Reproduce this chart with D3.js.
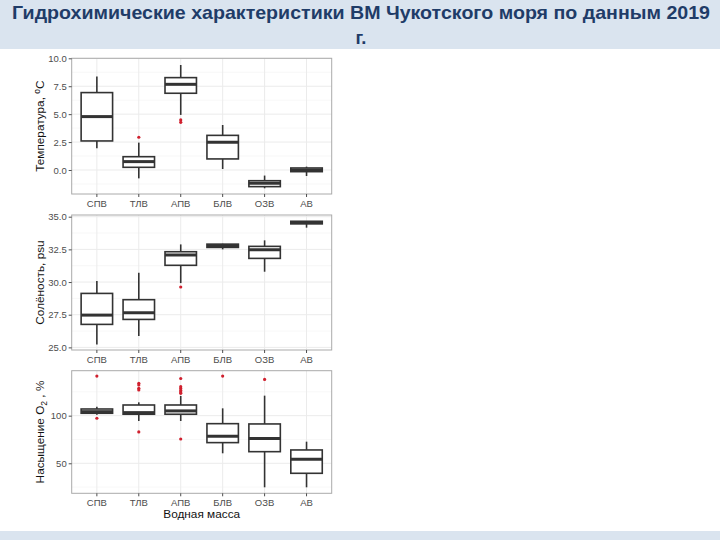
<!DOCTYPE html>
<html><head><meta charset="utf-8">
<script src="https://cdn.jsdelivr.net/npm/d3@7"></script>
<style>body{margin:0;background:#fff;}svg{display:block;}</style>
</head><body>
<svg id="c" width="720" height="540"></svg>
<script>
const categories = ["СПВ","ТЛВ","АПВ","БЛВ","ОЗВ","АВ"];

// Temperature, °C: [lowWhisker, q1, median, q3, highWhisker]
const tempStats = [
  [1.94, 2.6, 4.78, 6.93, 8.36],
  [-0.75, 0.24, 0.75, 1.19, 2.45],
  [4.93, 6.87, 7.67, 8.27, 9.4],
  [0.09, 0.99, 2.48, 3.1, 4.03],
  [-1.64, -1.49, -1.19, -0.96, -0.5],
  [-0.54, -0.15, 0.0, 0.18, 0.3]
];
const tempOutliers = [[], [2.93], [4.48, 4.27], [], [], []];
const tempTicks = [0, 2.5, 5, 7.5, 10];

// Salinity, psu
const salStats = [
  [25.23, 26.76, 27.47, 29.13, 30.08],
  [25.87, 27.14, 27.65, 28.65, 30.71],
  [29.92, 31.28, 32.07, 32.32, 32.88],
  [32.5, 32.65, 32.78, 32.9, 32.93],
  [30.79, 31.81, 32.47, 32.73, 33.19],
  [34.16, 34.45, 34.55, 34.65, 34.67]
];
const salOutliers = [[], [], [29.62], [], [], []];
const salTicks = [25, 27.5, 30, 32.5, 35];

// O2 saturation, %
const oxyStats = [
  [101.0, 102.5, 104.2, 107.0, 109.4],
  [94.4, 101.5, 103.2, 111.2, 114.0],
  [94.4, 101.5, 105.0, 111.2, 120.7],
  [60.5, 71.7, 78.3, 91.6, 107.7],
  [24.8, 62.2, 75.9, 91.3, 121.0],
  [24.8, 39.5, 54.2, 64.0, 72.7]
];
const oxyOutliers = [
  [141.6, 97.3],
  [134.0, 132.2, 128.7, 127.0, 82.9],
  [139.0, 130.4, 128.5, 126.5, 124.8, 123.5, 75.5],
  [141.6],
  [138.0],
  []
];
const oxyTicks = [50, 100];

const svg = d3.select("#c");
const bandColor = "#dae4ef";
svg.append("rect").attr("x",0).attr("y",0).attr("width",720).attr("height",49).attr("fill",bandColor);
svg.append("rect").attr("x",0).attr("y",531).attr("width",720).attr("height",9).attr("fill",bandColor);

const titleFont = "'Liberation Sans Narrow','Arial Narrow','Liberation Sans',sans-serif";
svg.append("text").attr("x",361).attr("y",19).attr("text-anchor","middle")
  .attr("font-family",titleFont).attr("font-weight","bold").attr("font-size",18.5)
  .attr("fill","#1f3c68").attr("textLength",698).attr("lengthAdjust","spacingAndGlyphs")
  .text("Гидрохимические характеристики ВМ Чукотского моря по данным 2019");
svg.append("text").attr("x",361).attr("y",44).attr("text-anchor","middle")
  .attr("font-family",titleFont).attr("font-weight","bold").attr("font-size",18.5)
  .attr("fill","#1f3c68").text("г.");

const left = 71.7, right = 331.7;
const x = d3.scaleBand().domain(categories).range([left, right]).paddingInner(0.25).paddingOuter(0.225);
const font = "'Liberation Sans',Arial,sans-serif";

function panel(cfg) {
  const {top, bottom, domain, ticks, stats, outliers, fmt, label} = cfg;
  const y = d3.scaleLinear().domain(domain).range([bottom, top]);
  const g = svg.append("g");
  g.append("rect").attr("x",left).attr("y",top).attr("width",right-left).attr("height",bottom-top).attr("fill","#fff");
  // minor grid
  const minor = [];
  for (let i = 0; i < ticks.length + 1; i++) {
    const step = ticks[1]-ticks[0];
    const v = ticks[0] - step/2 + i*step;
    if (v > domain[0] && v < domain[1]) minor.push(v);
  }
  g.selectAll(".mn").data(minor).join("line").attr("x1",left).attr("x2",right)
    .attr("y1",d=>y(d)).attr("y2",d=>y(d)).attr("stroke","#f2f2f2").attr("stroke-width",0.6);
  g.selectAll(".mj").data(ticks).join("line").attr("x1",left).attr("x2",right)
    .attr("y1",d=>y(d)).attr("y2",d=>y(d)).attr("stroke","#ebebeb").attr("stroke-width",1);
  g.selectAll(".vx").data(categories).join("line").attr("y1",top).attr("y2",bottom)
    .attr("x1",d=>x(d)+x.bandwidth()/2).attr("x2",d=>x(d)+x.bandwidth()/2).attr("stroke","#ebebeb").attr("stroke-width",1);
  // boxes
  categories.forEach((c,i)=>{
    const s = stats[i];
    const cx = x(c)+x.bandwidth()/2;
    const b = g.append("g").attr("stroke","#333").attr("fill","none");
    b.append("line").attr("x1",cx).attr("x2",cx).attr("y1",y(s[4])).attr("y2",y(s[3])).attr("stroke-width",1.6);
    b.append("line").attr("x1",cx).attr("x2",cx).attr("y1",y(s[1])).attr("y2",y(s[0])).attr("stroke-width",1.6);
    b.append("rect").attr("x",x(c)).attr("width",x.bandwidth()).attr("y",y(s[3]))
      .attr("height",Math.max(0.5,y(s[1])-y(s[3]))).attr("fill","#fff").attr("stroke-width",1.6);
    b.append("line").attr("x1",x(c)).attr("x2",x(c)+x.bandwidth()).attr("y1",y(s[2])).attr("y2",y(s[2])).attr("stroke-width",3);
    g.selectAll(null).data(outliers[i]).join("circle").attr("cx",cx).attr("cy",d=>y(d)).attr("r",1.6).attr("fill","#d0202e");
  });
  g.append("rect").attr("x",left).attr("y",top).attr("width",right-left).attr("height",bottom-top)
    .attr("fill","none").attr("stroke","#aaaaaa").attr("stroke-width",1);
  // y axis
  const ya = g.append("g").attr("transform",`translate(${left},0)`)
    .call(d3.axisLeft(y).tickValues(ticks).tickFormat(fmt).tickSize(3).tickPadding(2));
  ya.select(".domain").remove();
  ya.selectAll("line").attr("stroke","#4d4d4d");
  ya.selectAll("text").attr("fill","#4d4d4d").attr("font-family",font).attr("font-size",9.5);
  // x axis
  const xa = g.append("g").attr("transform",`translate(0,${bottom})`)
    .call(d3.axisBottom(x).tickSize(3).tickPadding(3));
  xa.select(".domain").remove();
  xa.selectAll("line").attr("stroke","#4d4d4d");
  xa.selectAll("text").attr("fill","#4d4d4d").attr("font-family",font).attr("font-size",9.5);
  // y label
  const t = g.append("text").attr("transform",`translate(44,${(top+bottom)/2}) rotate(-90)`)
    .attr("text-anchor","middle").attr("font-family",font).attr("font-size",11.8).attr("fill","#111");
  label(t);
  return y;
}

panel({top:58.3, bottom:194, domain:[-2.15,10.0], ticks:tempTicks, stats:tempStats, outliers:tempOutliers,
  fmt:d3.format(".1f"), label:t=>{ t.append("tspan").text("Температура,  "); t.append("tspan").attr("dy",-4).attr("font-size",8.5).text("o"); t.append("tspan").attr("dy",4).text("C"); }});
panel({top:215, bottom:350, domain:[24.8,35.13], ticks:salTicks, stats:salStats, outliers:salOutliers,
  fmt:d3.format(".1f"), label:t=>t.text("Солёность, psu")});
panel({top:370.7, bottom:493.3, domain:[18.5,147.2], ticks:oxyTicks, stats:oxyStats, outliers:oxyOutliers,
  fmt:d3.format("d"), label:t=>{ t.append("tspan").text("Насыщение  O"); t.append("tspan").attr("dy",3).attr("font-size",8.5).text("2"); t.append("tspan").attr("dy",-3).text(" ,  %"); }});

svg.append("text").attr("x",(left+right)/2).attr("y",518).attr("text-anchor","middle")
  .attr("font-family",font).attr("font-size",11.8).attr("fill","#111").text("Водная масса");
</script>
</body></html>
